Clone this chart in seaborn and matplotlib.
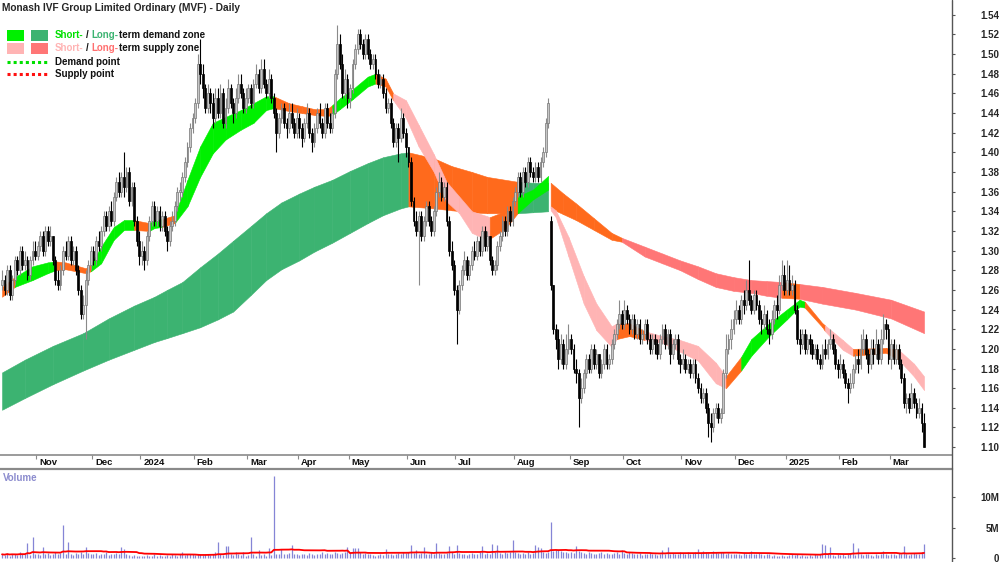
"""Monash IVF (MVF) daily candles with demand / supply zones and volume."""

import matplotlib

matplotlib.use("Agg")
import matplotlib.pyplot as plt
import numpy as np
import pandas as pd
import seaborn as sns
from matplotlib.lines import Line2D
from matplotlib.patches import Rectangle

W, H = 1000, 562

# month tick labels (first list entry below is the partial month Oct 2023)
month_labels = ["Nov", "Dec", "2024", "Feb", "Mar", "Apr", "May", "Jun", "Jul",
                "Aug", "Sep", "Oct", "Nov", "Dec", "2025", "Feb", "Mar"]

# daily prices in cents, one inner list per month (Oct 2023 .. Mar 2025)
closes = [
    [127, 126, 128, 125.5, 127, 129, 128, 130, 128.5, 129, 127.5, 129, 130, 129.5],
    [130.5, 131.5, 130, 132, 131, 131.5, 129, 127, 126.5, 128, 130, 129.5, 131, 129, 130, 128, 126, 123.5, 124.5, 127, 128.5, 130],
    [129, 131, 130.5, 132, 133.5, 132.5, 134, 133, 135.5, 137, 136, 137.5, 136.5, 138, 135, 136.5, 133, 131, 129.5],
    [130, 129, 131.5, 133, 134.5, 133, 134, 132.5, 133.5, 132, 131, 132.5, 133, 134.5, 136, 136, 137.5, 139, 140.5, 142.5, 143.5],
    [145, 149, 148, 146.5, 144.5, 146, 145, 143.5, 145.5, 144, 146, 143, 144.5, 146.5, 145, 144, 145.5, 147, 146, 144.5, 145.5],
    [146.5, 145, 147, 148, 146.5, 148.5, 147, 146, 147.5, 145.5, 144, 142, 143.5, 144.5, 143, 142.5, 144, 143, 142, 143.5],
    [142.5, 141.5, 143, 144, 142, 141, 142.5, 144, 143, 142, 144.5, 143, 142.5, 144, 148, 151, 149, 146, 147.5, 145.5],
    [146.5, 149, 150.5, 152, 151, 150, 151.5, 150, 149, 149.5, 148, 147, 147.5, 146, 144.5, 145, 143, 141, 142.5, 141.5, 143.5, 142, 140.5],
    [139, 135, 133, 132, 133.5, 131.5, 133, 134.5, 133, 132, 134, 136, 137, 135.5, 136.5, 133, 130, 128.5, 126],
    [124, 126.5, 128, 129, 127.5, 128.5, 130, 129.5, 131, 130, 132, 130.5, 131.5, 129, 128, 128.5, 130.5, 131.5, 133, 132, 134, 133, 135],
    [136, 137.5, 136, 138, 137, 139, 138, 137.5, 138.5, 137.5, 139, 140, 143, 145, 126.5, 122, 121, 119, 120.5, 118.5, 120, 121],
    [120, 118, 117.5, 115, 116, 117.5, 119, 118, 120, 118.5, 119.5, 117.5, 118.5, 120, 118.5, 119, 120.5, 121.5, 122.5, 123.5, 122.5],
    [124, 123, 122, 123, 121.5, 122.5, 121, 121.5, 122.5, 121, 120, 121, 120.5, 119.5, 121, 122, 120.5, 121.5, 119.5, 120.5, 121, 119, 118.5],
    [119, 118, 118.5, 117.5, 118.5, 117, 116, 115, 115.5, 114, 112.5, 112, 113.5, 114, 113, 113.5, 117.5, 120, 121, 122, 123],
    [124, 123, 125, 124.5, 126, 125, 124, 125.5, 124.5, 123, 122.5, 123.5, 122, 121.5, 123, 124.5, 124, 126.5, 127.5, 126],
    [127, 126, 126.5, 124, 121, 120.5, 121.5, 120, 121, 120.5, 119.5, 120, 119, 118.5, 120, 119.5, 120.5, 121, 120, 118.5, 118],
    [118.5, 117.5, 116.5, 116, 116.5, 118, 119, 118.5, 120, 121, 119.5, 118.5, 120, 119.5, 120.5, 119, 121, 122.5, 122, 119],
    [120.5, 119, 120, 118.5, 117, 114.5, 115, 114, 115.5, 114.5, 113.5, 114, 112.5, 110],
]
highs = [
    [128, 127.5, 128.5, 128.5, 127.5, 129.5, 129.5, 130.5, 130.5, 130, 129.5, 129.5, 131, 131],
    [131, 132, 132, 132.5, 132.5, 132.5, 131.5, 129.5, 128, 128.5, 130.5, 131, 131.5, 131.5, 130.5, 130.5, 128.5, 126.5, 125.5, 128, 129, 130.5],
    [130.5, 131.5, 132, 132.5, 134, 134, 134.5, 135, 136, 137.5, 138, 138, 140, 138.5, 138.5, 137, 137, 133.5, 132],
    [131, 130.5, 132, 133.5, 135, 135, 134.5, 134.5, 134, 134, 132.5, 133, 134, 135, 136.5, 137, 138, 139.5, 141, 143, 144],
    [145.5, 150, 151.5, 149, 147, 147, 146.5, 146, 146.5, 146.5, 147, 146.5, 145.5, 147.5, 147, 145.5, 146.5, 148, 148, 146.5, 146.5],
    [147, 147, 147.5, 149, 148.5, 149.5, 149.5, 147.5, 148.5, 148, 146, 144.5, 144, 145, 145, 143.5, 145, 145, 143.5, 144.5],
    [144, 143, 143.5, 145, 144.5, 142.5, 143, 144.5, 145, 143.5, 145, 145, 144, 144.5, 148.5, 153, 152, 150, 148.5, 148],
    [147, 149.5, 151, 152.5, 152.5, 151.5, 152, 152, 150.5, 150, 150, 148.5, 148, 148, 146.5, 145.5, 145.5, 143.5, 143, 143, 144.5, 144, 142.5],
    [140.5, 139.5, 135.5, 134, 134, 134, 133.5, 135, 135, 133.5, 134.5, 136.5, 138, 137.5, 137, 137, 133.5, 131, 129],
    [126.5, 127, 128.5, 130, 129.5, 129, 130.5, 131, 131.5, 131.5, 132.5, 132.5, 132, 131.5, 129.5, 129, 131, 132, 133.5, 133.5, 134.5, 134.5, 135.5],
    [136.5, 138, 138, 138.5, 138.5, 139.5, 139.5, 138.5, 139, 139, 139.5, 140.5, 143.5, 145.5, 133.5, 126.5, 122.5, 122, 121.5, 121, 121.5, 122.5],
    [121.5, 120.5, 119, 118, 117, 118, 119.5, 119.5, 120.5, 120.5, 120, 119.5, 119, 120.5, 120.5, 119.5, 121, 122, 123, 125, 124],
    [125, 124.5, 123.5, 123.5, 123.5, 123, 123, 122, 123, 123, 121.5, 121.5, 121.5, 121, 121.5, 122.5, 122.5, 122, 122, 121, 121.5, 121.5, 119.5],
    [120, 119.5, 119, 119, 119, 119, 117.5, 116.5, 116, 116, 114.5, 113.5, 114, 114.5, 114.5, 114, 118, 121.5, 121.5, 123, 124],
    [125, 124.5, 125.5, 126, 127, 129, 125.5, 126, 126, 125, 124, 124.5, 124, 123, 124, 125, 125.5, 127.5, 129, 128.5],
    [129, 128.5, 127.5, 127, 124.5, 122, 122, 122, 121.5, 121.5, 121, 120.5, 120.5, 119.5, 120.5, 121, 121, 122, 121.5, 120.5, 119],
    [119.5, 119, 118, 117, 117.5, 118.5, 119.5, 120, 121.5, 122, 121.5, 120, 121, 121, 122, 121, 122, 123.5, 123, 122.5],
    [121, 121, 120.5, 120.5, 119, 117.5, 115.5, 115.5, 116.5, 116, 115, 115, 114.5, 113.5],
]
lows = [
    [126, 125.5, 125.5, 125, 125, 126.5, 127.5, 127.5, 128, 128, 127, 127, 128.5, 129],
    [129, 130, 129.5, 129.5, 130.5, 130.5, 128.5, 126.5, 126, 126, 127.5, 129, 129, 128.5, 128.5, 127.5, 125.5, 123, 123, 121, 126.5, 128],
    [128.5, 128.5, 130, 130, 131.5, 132, 132, 132.5, 132.5, 135, 135.5, 135.5, 135.5, 136, 134.5, 134.5, 132.5, 130.5, 128.5],
    [128.5, 128, 128.5, 131, 132.5, 132.5, 132.5, 132, 132, 131.5, 130, 130.5, 132, 132.5, 134, 135, 135.5, 137, 138.5, 140, 142],
    [143, 144.5, 147, 145.5, 144, 144, 144, 142.5, 143, 143.5, 143.5, 142.5, 142.5, 144, 144.5, 143, 143.5, 145, 145.5, 144, 144],
    [145, 144.5, 144.5, 146.5, 146, 146, 146.5, 145.5, 145.5, 145, 143.5, 140, 141.5, 143, 142.5, 141.5, 142, 142.5, 141.5, 141.5],
    [141.5, 140.5, 141, 142.5, 141.5, 140, 140.5, 142, 142.5, 141.5, 141.5, 142.5, 142, 142, 143.5, 147.5, 148.5, 145.5, 145.5, 144.5],
    [144.5, 146, 148.5, 150, 150.5, 149.5, 149.5, 149.5, 148.5, 148.5, 147.5, 146.5, 146.5, 145.5, 144, 144, 142.5, 140.5, 140.5, 139, 141, 141.5, 139.5],
    [138.5, 134.5, 132.5, 131.5, 126.5, 131, 131, 132.5, 132.5, 131.5, 131.5, 133.5, 135.5, 135, 135, 132.5, 129.5, 128, 125.5],
    [120.5, 123.5, 126, 127.5, 127, 127, 128, 129, 129, 129.5, 129.5, 130, 130, 128.5, 127.5, 127.5, 128, 130, 131, 131.5, 131.5, 132.5, 132.5],
    [134.5, 135.5, 135.5, 135.5, 136.5, 136.5, 137.5, 137, 137, 137, 137, 138.5, 139.5, 142.5, 126, 121.5, 120, 118, 118.5, 118, 118, 119.5],
    [119.5, 117.5, 116.5, 112, 114.5, 115.5, 117, 117.5, 117.5, 118, 118, 117, 117, 118, 118, 118, 118.5, 120, 121, 122, 122],
    [122, 122.5, 121.5, 121.5, 121, 121, 120.5, 120.5, 121, 120.5, 119.5, 119.5, 119.5, 119, 119, 120.5, 120, 120, 118.5, 119, 120, 118.5, 117.5],
    [118, 117.5, 117.5, 117, 117, 116.5, 115.5, 114.5, 114.5, 113.5, 111, 110.5, 111.5, 113, 112.5, 112.5, 113.5, 117, 119.5, 120, 121.5],
    [122.5, 122.5, 122.5, 123.5, 124, 124.5, 123.5, 123.5, 124, 122.5, 121.5, 122, 121.5, 120.5, 121, 122.5, 123, 123.5, 126, 125.5],
    [125.5, 125.5, 125.5, 123.5, 120.5, 119.5, 120, 119.5, 119.5, 119.5, 119, 119, 118.5, 118, 118, 119, 119, 120, 119.5, 118, 117],
    [117, 117, 116, 114.5, 115.5, 116, 117.5, 117.5, 118, 119.5, 119, 117.5, 118, 118.5, 119, 118.5, 118.5, 120.5, 121, 118.5],
    [118, 118.5, 118.5, 118, 116.5, 114, 113.5, 113.5, 114, 114, 113, 113, 111.5, 110],
]
# daily volume in units of 100k shares
volumes = [
    [6, 5, 8, 4, 7, 6, 5, 9, 6, 7, 24, 5, 34, 6],
    [7, 5, 18, 6, 8, 5, 7, 9, 6, 8, 54, 7, 26, 6, 5, 8, 7, 9, 6, 18, 8, 7],
    [6, 8, 5, 7, 6, 9, 5, 7, 6, 8, 7, 18, 14, 6, 5, 4, 5, 3, 4],
    [3, 4, 5, 3, 4, 6, 3, 5, 4, 3, 5, 4, 6, 5, 4, 6, 10, 5, 6, 7, 6],
    [5, 7, 6, 5, 6, 7, 5, 6, 10, 26, 6, 5, 20, 20, 6, 5, 10, 6, 5, 10, 4],
    [5, 34, 6, 4, 13, 5, 6, 4, 16, 5, 134, 7, 6, 14, 7, 6, 8, 22, 6, 7],
    [5, 6, 7, 5, 8, 6, 5, 7, 6, 9, 7, 8, 6, 7, 9, 8, 7, 8, 9, 18],
    [8, 16, 16, 16, 9, 7, 8, 6, 7, 5, 4, 5, 6, 5, 15, 6, 7, 5, 6, 8, 7, 9, 8],
    [9, 22, 8, 13, 7, 8, 18, 6, 7, 9, 6, 24, 8, 7, 6, 8, 20, 9, 7],
    [22, 8, 6, 7, 5, 6, 8, 7, 6, 9, 20, 7, 8, 6, 23, 9, 22, 8, 7, 9, 8, 10, 29],
    [9, 8, 7, 8, 6, 9, 7, 8, 22, 18, 16, 9, 8, 10, 59, 12, 13, 13, 11, 10, 9, 8],
    [9, 8, 20, 11, 9, 8, 7, 9, 8, 7, 6, 8, 9, 7, 8, 6, 7, 8, 9, 7, 13],
    [8, 7, 9, 8, 6, 7, 8, 5, 7, 6, 8, 7, 6, 5, 7, 13, 6, 18, 7, 8, 6, 7, 9],
    [8, 7, 9, 6, 8, 9, 15, 8, 12, 9, 8, 7, 11, 9, 8, 10, 9, 7, 8, 6, 7],
    [6, 7, 5, 8, 6, 7, 11, 6, 7, 8, 6, 5, 7, 6, 4, 5, 3, 4, 5, 3],
    [4, 5, 6, 5, 7, 4, 5, 3, 4, 5, 4, 6, 5, 7, 23, 22, 6, 18, 5, 4, 6],
    [5, 6, 4, 7, 6, 24, 5, 16, 6, 5, 7, 6, 5, 4, 6, 5, 7, 12, 6, 5],
    [6, 7, 5, 8, 6, 20, 7, 5, 6, 8, 7, 6, 9, 23],
]
first_open = 126.5
gap_opens = {216: 133.0}  # day index -> open (cents) after the August gap down

# short-term zone: day index, upper, lower, state of the segment starting there
# (g demand, p supply, o transition, - break)
short_day = (
    [0, 5, 12, 18, 21, 25, 29, 33, 35, 39, 44, 48, 52, 58, 60, 63, 68, 73, 78, 83]
    + [88, 94, 99, 104, 107, 113, 118, 123, 128, 130, 133, 138, 144, 147, 151, 154]
    + [159, 164, 170, 175, 180, 185, 191, 192, 198, 203, 209, 215]
    + [216, 218, 223, 229, 234, 240, 242, 247, 253, 260, 267, 274, 281, 285, 291]
    + [295, 302, 309, 314, 316, 323, 324, 331, 335, 348, 353, 359, 363]
)
short_hi = (
    [1.263, 1.273, 1.284, 1.288, 1.289, 1.288, 1.285, 1.282, 1.286, 1.304,
     1.324, 1.331, 1.331, 1.328, 1.331, 1.332, 1.336, 1.372, 1.406, 1.430]
    + [1.436, 1.443, 1.450, 1.457, 1.457, 1.450, 1.447, 1.444, 1.444, 1.448,
       1.455, 1.464, 1.477, 1.480, 1.475, 1.460]
    + [1.453, 1.428, 1.398, 1.370, 1.355, 1.340, 1.335, 1.334, 1.340, 1.355, 1.362, 1.376]
    + [1.345, 1.341, 1.314, 1.274, 1.246, 1.223, 1.226, 1.226, 1.218, 1.213,
       1.209, 1.203, 1.186, 1.172, 1.192]
    + [1.210, 1.226, 1.240, 1.250, 1.248, 1.226, 1.224, 1.209, 1.200, 1.201, 1.199, 1.185, 1.172]
)
short_lo = (
    [1.253, 1.263, 1.270, 1.277, 1.280, 1.281, 1.279, 1.277, 1.279, 1.287,
     1.311, 1.321, 1.321, 1.320, 1.323, 1.324, 1.328, 1.345, 1.375, 1.399]
    + [1.413, 1.423, 1.430, 1.443, 1.445, 1.442, 1.440, 1.438, 1.437, 1.438,
       1.444, 1.454, 1.467, 1.470, 1.467, 1.453]
    + [1.435, 1.406, 1.380, 1.350, 1.338, 1.318, 1.311, 1.312, 1.322, 1.338, 1.352, 1.362]
    + [1.341, 1.334, 1.294, 1.246, 1.219, 1.202, 1.210, 1.213, 1.209, 1.206,
       1.197, 1.188, 1.165, 1.160, 1.178]
    + [1.193, 1.213, 1.230, 1.243, 1.242, 1.222, 1.218, 1.199, 1.193, 1.196, 1.189, 1.172, 1.158]
)
short_code = (
    list("ogggooooggggoggogggg")
    + list("ggggoooooggggoop")
    + list("pppppppoogg-")
    + list("ppppppoopppppog")
    + list("ggggooppoopp-")
)

# long-term zone (G demand, R supply, O transition, - break)
long_day = (
    [0, 9, 20, 32, 42, 52, 60, 65, 71, 78, 85, 91, 98, 104, 110, 117, 123, 130, 137, 144, 150, 157]
    + [160, 170, 177, 185, 191, 203, 209, 215]
    + [216, 221, 226, 233, 240, 244, 253, 260, 267, 274, 281, 288, 295, 301, 307, 314, 323, 336, 350, 363]
)
long_hi = (
    [1.176, 1.189, 1.203, 1.216, 1.231, 1.244, 1.253, 1.260, 1.268, 1.283, 1.297,
     1.310, 1.325, 1.338, 1.349, 1.358, 1.365, 1.372, 1.381, 1.389, 1.395, 1.399]
    + [1.400, 1.394, 1.386, 1.380, 1.375, 1.370, 1.369, 1.369]
    + [1.369, 1.358, 1.348, 1.333, 1.318, 1.313, 1.304, 1.297, 1.290, 1.284,
       1.277, 1.273, 1.270, 1.269, 1.268, 1.266, 1.263, 1.257, 1.250, 1.238]
)
long_lo = (
    [1.138, 1.150, 1.164, 1.178, 1.189, 1.199, 1.207, 1.211, 1.216, 1.222, 1.230,
     1.238, 1.255, 1.270, 1.281, 1.290, 1.299, 1.308, 1.318, 1.328, 1.336, 1.343]
    + [1.345, 1.343, 1.341, 1.339, 1.338, 1.338, 1.339, 1.340]
    + [1.343, 1.337, 1.331, 1.321, 1.311, 1.309, 1.294, 1.287, 1.280, 1.271,
       1.263, 1.259, 1.257, 1.254, 1.252, 1.251, 1.246, 1.240, 1.231, 1.216]
)
long_code = list("G" * 22) + list("OOOOOGG-") + list("OOOOORRRRRRRRRORRRR-")

ZONE_COLOURS = {
    "g": "#00f000",   # short-term demand
    "G": "#3cb371",   # long-term demand
    "p": "#ffb4b4",   # short-term supply
    "R": "#ff7676",   # long-term supply
    "o": "#ff6a1c",   # transition
    "O": "#ff6a1c",
}


def draw_zone(ax, days, upper, lower, codes, z):
    """Fill a zone segment by segment, coloured by its state."""
    if not (len(days) == len(upper) == len(lower) == len(codes)):
        print("zone length mismatch", len(days), len(upper), len(lower), len(codes))
    n = min(len(days), len(upper), len(lower), len(codes))
    for i in range(n - 1):
        colour = ZONE_COLOURS.get(codes[i])
        if colour is None:
            continue
        ax.fill_between(days[i:i + 2], lower[i:i + 2], upper[i:i + 2],
                        facecolor=colour, edgecolor=colour, linewidth=0.4, zorder=z)


records = []
for month, (c, h, l, v) in enumerate(zip(closes, highs, lows, volumes)):
    if not (len(c) == len(h) == len(l) == len(v)):
        print("length mismatch in month", month, len(c), len(h), len(l), len(v))
    for ci, hi, lo, vo in zip(c, h, l, v):
        records.append({"month": month, "close": ci / 100, "high": hi / 100,
                        "low": lo / 100, "volume": vo * 1e5})
df = pd.DataFrame(records)
df["x"] = np.arange(len(df))
df["open"] = df["close"].shift(1)
df.loc[0, "open"] = first_open / 100
for day, value in gap_opens.items():
    df.loc[day, "open"] = value / 100
df["high"] = df[["high", "open", "close"]].max(axis=1)
df["low"] = df[["low", "open", "close"]].min(axis=1)
df["vol_ma"] = df["volume"].rolling(30, min_periods=1).mean()

sns.set_theme(style="white")
plt.rcParams["font.family"] = ["Liberation Sans", "DejaVu Sans"]

fig = plt.figure(figsize=(W / 100, H / 100), dpi=100)
ax = fig.add_axes([0, 1 - 455 / H, 952 / W, 455 / H])
axv = fig.add_axes([0, 0, 952 / W, 93 / H])

# zones
draw_zone(ax, long_day, long_hi, long_lo, long_code, 1)
draw_zone(ax, short_day, short_hi, short_lo, short_code, 2)

# candles
rising = df["close"] >= df["open"]
for mask, face, edge, wick in [(rising, "#c6c6c6", "#767676", "#8a8a8a"),
                               (~rising, "#000000", "#000000", "#000000")]:
    part = df[mask]
    ax.vlines(part["x"], part["low"], part["high"], color=wick, linewidth=0.8, zorder=3)
    body = (part["close"] - part["open"]).abs().clip(lower=0.0012)
    ax.bar(part["x"], body, bottom=part[["open", "close"]].min(axis=1), width=0.72,
           color=face, edgecolor=edge, linewidth=0.5, zorder=4)

ax.set_xlim(-0.8, 374)
ax.set_ylim(1.092, 1.555)

starts = df.groupby("month")["x"].min().to_numpy()[1:] - 0.5
ax.set_xticks(starts, labels=[""] * len(starts))
ax.tick_params(axis="x", bottom=True, length=3, width=0.8, color="#8a8a8a", direction="out")
for pos, label in zip(starts, month_labels):
    ax.annotate(label, xy=(pos, 0), xycoords=("data", "axes fraction"),
                xytext=(2, -5.2), textcoords="offset points", ha="left", va="center",
                fontsize=6.8, fontweight="bold", color="#111111", annotation_clip=False)

price_ticks = np.round(np.arange(1.10, 1.5401, 0.02), 2)
ax.yaxis.tick_right()
ax.set_yticks(price_ticks, labels=[f"{v:.2f}" for v in price_ticks],
              ha="right", fontweight="bold")
ax.tick_params(axis="y", right=True, left=False, length=2.5, width=0.8,
               color="#555555", pad=31.5, labelsize=7)

# volume panel
axv.vlines(df["x"], 0, df["volume"], color="#8585d6", linewidth=0.9, zorder=2)
sns.lineplot(data=df, x="x", y="vol_ma", ax=axv, color="#ff0000", linewidth=1.3, zorder=3)
axv.set_xlim(-0.8, 374)
axv.set_ylim(-0.66e6, 14.6e6)
axv.set_xticks([])
axv.yaxis.tick_right()
axv.set_yticks([0, 5e6, 10e6], labels=["0", "5M", "10M"], ha="right", fontweight="bold")
axv.tick_params(axis="y", right=True, left=False, length=2.5, width=0.8,
                color="#555555", pad=31.5, labelsize=7)
axv.set_xlabel("")
axv.set_ylabel("")
axv.text(3 / 952, 1 - 9 / 93, "Volume", transform=axv.transAxes, ha="left", va="center",
         fontsize=7, fontweight="bold", color="#8c8cce")

for a in (ax, axv):
    a.set_facecolor("white")
    for side in ("left", "right", "top", "bottom"):
        a.spines[side].set_visible(False)
ax.spines["bottom"].set_visible(True)
ax.spines["bottom"].set_color("#8a8a8a")
ax.spines["bottom"].set_linewidth(1.2)
axv.spines["top"].set_visible(True)
axv.spines["top"].set_color("#8a8a8a")
axv.spines["top"].set_linewidth(1.6)
fig.add_artist(Line2D([952 / W, 952 / W], [0, 1], transform=fig.transFigure,
                      color="#555555", linewidth=1.0))

# title and legend
fig.text(2 / W, 1 - 8 / H, "Monash IVF Group Limited Ordinary (MVF) - Daily",
         fontsize=7.3, fontweight="bold", ha="left", va="center")

renderer = fig.canvas.get_renderer()
SPACE = 2.7


def text_run(x_px, y_px, pieces):
    """Write consecutive text pieces in different colours."""
    for text, colour, gap in pieces:
        x_px += gap
        t = fig.text(x_px / W, 1 - y_px / H, text, color=colour, fontsize=7,
                     fontweight="bold", ha="left", va="center")
        x_px += t.get_window_extent(renderer).width


for row_y, left, right in [(35, "#00f000", "#3cb371"), (48, "#ffb4b4", "#ff7676")]:
    fig.add_artist(Rectangle((7 / W, 1 - (row_y + 5.5) / H), 17 / W, 11 / H,
                             transform=fig.transFigure, color=left, lw=0))
    fig.add_artist(Rectangle((31 / W, 1 - (row_y + 5.5) / H), 17 / W, 11 / H,
                             transform=fig.transFigure, color=right, lw=0))

text_run(55, 35, [("Short-", "#00e000", 0), ("/", "#111111", SPACE),
                  ("Long-", "#3cb371", SPACE), ("term demand zone", "#111111", 0)])
text_run(55, 48, [("Short-", "#ffb4b4", 0), ("/", "#111111", SPACE),
                  ("Long-", "#ff6f6f", SPACE), ("term supply zone", "#111111", 0)])
for row_y, colour, label in [(62, "#00e000", "Demand point"), (74, "#ff1010", "Supply point")]:
    fig.add_artist(Line2D([7 / W, 48 / W], [1 - row_y / H] * 2, transform=fig.transFigure,
                          color=colour, linewidth=2.2, linestyle=(0, (1, 1))))
    fig.text(55 / W, 1 - row_y / H, label, fontsize=7, fontweight="bold",
             ha="left", va="center", color="#111111")

fig.savefig("out.png", dpi=100)
plt.close(fig)
